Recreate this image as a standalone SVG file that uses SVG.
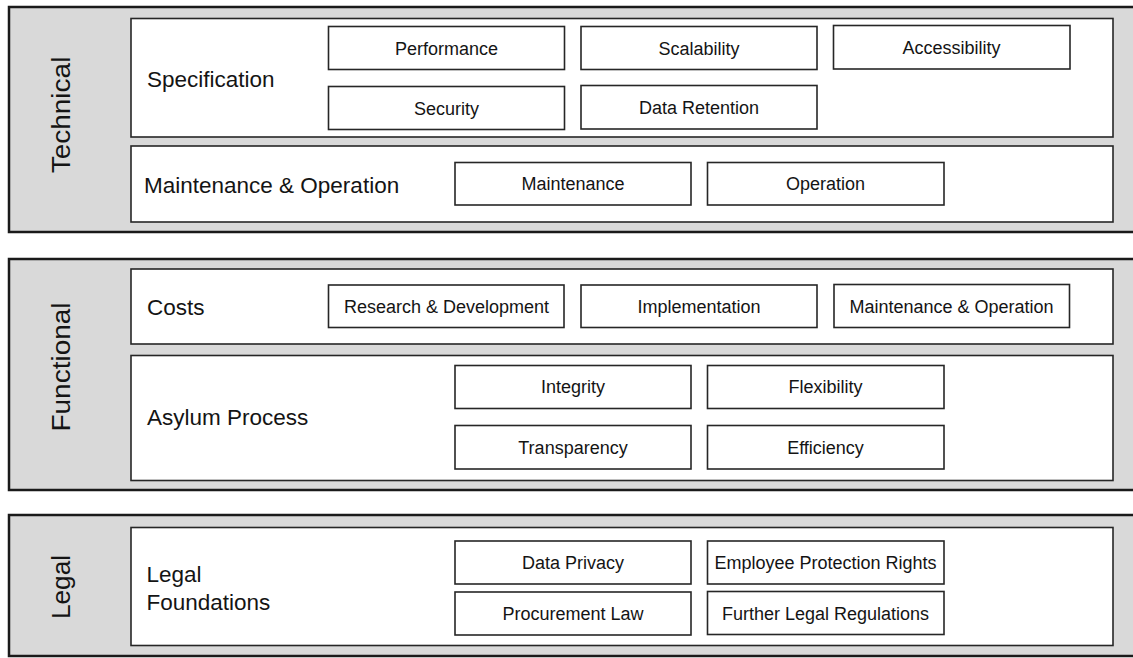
<svg xmlns="http://www.w3.org/2000/svg" width="1133" height="658" viewBox="0 0 1133 658">
<style>
.band{fill:#d9d9d9;stroke:#1a1a1a;stroke-width:2.5}
.area{fill:#fff;stroke:#262626;stroke-width:1.6}
.box{fill:#fff;stroke:#262626;stroke-width:1.6}
text{font-family:"Liberation Sans",Arial,sans-serif;fill:#141414}
.side{font-size:25px;text-anchor:middle}
.main{font-size:22.5px}
.sub{font-size:18px;text-anchor:middle}
</style>
<rect width="1133" height="658" fill="#fff"/>
<g id="technical">
<rect class="band" x="9" y="7" width="1135" height="225"/>
<text class="side" transform="translate(70,115) scale(1,1.12) rotate(-90)">Technical</text>
<g id="specification">
<rect class="area" x="131" y="18.5" width="982" height="118.5"/>
<text class="main" x="147" y="87">Specification</text>
<g id="performance"><rect class="box" x="328.5" y="26.5" width="236" height="43"/><text class="sub" x="446.5" y="54.5">Performance</text></g>
<g id="scalability"><rect class="box" x="581" y="26.5" width="236" height="43"/><text class="sub" x="699" y="54.5">Scalability</text></g>
<g id="accessibility"><rect class="box" x="833.5" y="25.5" width="236.5" height="43.5"/><text class="sub" x="951.5" y="53.5">Accessibility</text></g>
<g id="security"><rect class="box" x="328.5" y="86.5" width="236" height="43"/><text class="sub" x="446.5" y="114.5">Security</text></g>
<g id="data-retention"><rect class="box" x="581" y="85.5" width="236" height="43.5"/><text class="sub" x="699" y="113.5">Data Retention</text></g>
</g>
<g id="maintenance-operation">
<rect class="area" x="131" y="146" width="982" height="76"/>
<text class="main" x="144" y="193">Maintenance &amp; Operation</text>
<g id="maintenance"><rect class="box" x="455" y="162.5" width="236" height="42.5"/><text class="sub" x="573" y="190">Maintenance</text></g>
<g id="operation"><rect class="box" x="707.5" y="162.5" width="236.5" height="42.5"/><text class="sub" x="825.5" y="190">Operation</text></g>
</g>
</g>
<g id="functional">
<rect class="band" x="9" y="259" width="1135" height="231"/>
<text class="side" transform="translate(70,367) scale(1,1.12) rotate(-90)">Functional</text>
<g id="costs">
<rect class="area" x="131" y="269" width="982" height="75"/>
<text class="main" x="147" y="315">Costs</text>
<g id="research-development"><rect class="box" x="328.5" y="285" width="235.5" height="42.5"/><text class="sub" x="446.5" y="312.5">Research &amp; Development</text></g>
<g id="implementation"><rect class="box" x="581" y="285" width="236" height="42.5"/><text class="sub" x="699" y="312.5">Implementation</text></g>
<g id="costs-maintenance-operation"><rect class="box" x="834" y="284.5" width="235.5" height="43"/><text class="sub" x="951.5" y="312.5">Maintenance &amp; Operation</text></g>
</g>
<g id="asylum-process">
<rect class="area" x="131" y="355.5" width="982" height="125"/>
<text class="main" x="147" y="425">Asylum Process</text>
<g id="integrity"><rect class="box" x="455" y="365.5" width="236" height="43"/><text class="sub" x="573" y="393">Integrity</text></g>
<g id="flexibility"><rect class="box" x="707.5" y="365.5" width="236.5" height="43"/><text class="sub" x="825.5" y="393">Flexibility</text></g>
<g id="transparency"><rect class="box" x="455" y="425.5" width="236" height="43.5"/><text class="sub" x="573" y="453.5">Transparency</text></g>
<g id="efficiency"><rect class="box" x="707.5" y="425.5" width="236.5" height="43.5"/><text class="sub" x="825.5" y="453.5">Efficiency</text></g>
</g>
</g>
<g id="legal">
<rect class="band" x="9" y="515" width="1135" height="141"/>
<text class="side" transform="translate(70,587) scale(1,1.05) rotate(-90)">Legal</text>
<g id="legal-foundations">
<rect class="area" x="131" y="527.5" width="982" height="118"/>
<text class="main" x="146.5" y="582">Legal</text>
<text class="main" x="146.5" y="609.5">Foundations</text>
<g id="data-privacy"><rect class="box" x="455" y="541" width="236" height="43"/><text class="sub" x="573" y="569">Data Privacy</text></g>
<g id="employee-protection-rights"><rect class="box" x="707.5" y="541" width="236.5" height="43"/><text class="sub" x="825.5" y="569">Employee Protection Rights</text></g>
<g id="procurement-law"><rect class="box" x="455" y="592" width="236" height="43"/><text class="sub" x="573" y="620">Procurement Law</text></g>
<g id="further-legal-regulations"><rect class="box" x="707.5" y="591.5" width="236.5" height="43"/><text class="sub" x="825.5" y="619.5">Further Legal Regulations</text></g>
</g>
</g>
<g id="connectors"/>
</svg>
